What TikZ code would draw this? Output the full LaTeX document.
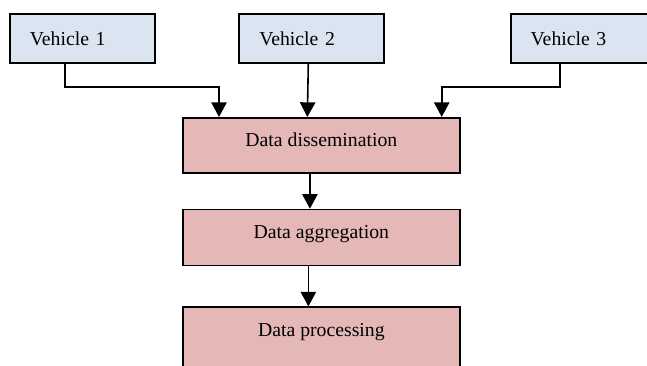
\documentclass[tikz,border=0pt]{standalone}
\usepackage{fontspec}
\setmainfont{Liberation Serif}
\usepackage{xcolor}
\usepackage{tikz}
\usetikzlibrary{arrows.meta, positioning}

\definecolor{vehfill}{HTML}{DBE4F1}
\definecolor{datafill}{HTML}{E5B8B7}

\begin{document}
\begin{tikzpicture}[
    every node/.style={draw, line width=1.3pt, font=\fontsize{14.8pt}{17pt}\selectfont},
    vehicle/.style={fill=vehfill, minimum height=36.75pt, text width=78.75pt, inner xsep=15pt, align=left},
    stage/.style={fill=datafill, minimum width=207.75pt, inner ysep=0pt, text height=21.75pt, text depth=19.5pt},
    arrow/.style={-{Triangle[width=11.5pt, length=11pt]}, line width=1.2pt}
]
\useasboundingbox (0,0) rectangle (485.25pt,-274.5pt);
\clip (0,0) rectangle (485.25pt,-274.5pt);

% Vehicles (top row)
\node (veh1) [vehicle, anchor=north west] at (6.75pt,-9.75pt) {Vehicle 1};
\node (veh2) [vehicle, right=62pt of veh1] {Vehicle 2};
\node (veh3) [vehicle, right=93.5pt of veh2] {Vehicle 3};

% Data stages
\node (dissem) [stage, anchor=north west] at (136.5pt,-87.75pt) {Data dissemination};
\node (aggreg) [stage, below=26.25pt of dissem, text depth=20.25pt] {Data aggregation};
\node (process) [stage, below=30pt of aggreg, text depth=60pt] {Data processing};

% Arrows from vehicles
\draw[arrow] ([xshift=-13pt]veh1.south) -- ++(0,-17.25pt) -| ([xshift=27.75pt]dissem.north west);
\draw[arrow] ([xshift=-2.6pt]veh2.south) -- ([xshift=-10.5pt]dissem.north);
\draw[arrow] ([xshift=-17.6pt]veh3.south) -- ++(0,-17.25pt) -| ([xshift=-14.25pt]dissem.north east);

% Arrows between stages
\draw[arrow] ([xshift=-8.6pt]dissem.south) -- ([xshift=-8.6pt]aggreg.north);
\draw[arrow] ([xshift=-9.75pt]aggreg.south) -- ([xshift=-9.75pt]process.north);

\end{tikzpicture}
\end{document}
